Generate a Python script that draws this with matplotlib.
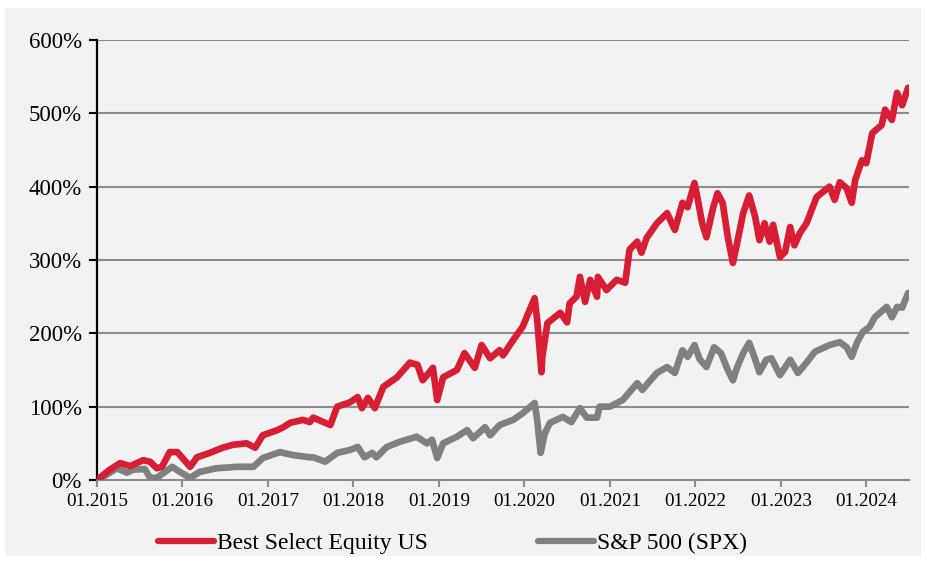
import matplotlib.pyplot as plt
from matplotlib.patches import Rectangle

# decimal years and cumulative performance in %
bse_x = [2015.00, 2015.15, 2015.27, 2015.39, 2015.54, 2015.62, 2015.70, 2015.76, 2015.85, 2015.94,
         2016.09, 2016.17, 2016.32, 2016.47, 2016.59, 2016.75, 2016.85, 2016.94, 2017.11, 2017.18,
         2017.26, 2017.41, 2017.49, 2017.53, 2017.73, 2017.81, 2017.96, 2018.05, 2018.10, 2018.17,
         2018.25, 2018.35, 2018.51, 2018.66, 2018.75, 2018.81, 2018.89, 2018.93, 2018.98, 2019.05,
         2019.21, 2019.30, 2019.42, 2019.50, 2019.60, 2019.71, 2019.75, 2019.87, 2019.98, 2020.12,
         2020.15, 2020.20, 2020.21, 2020.27, 2020.42, 2020.50, 2020.53, 2020.61, 2020.65, 2020.71,
         2020.77, 2020.85, 2020.86, 2020.96, 2021.08, 2021.18, 2021.23, 2021.32, 2021.37, 2021.43,
         2021.55, 2021.67, 2021.76, 2021.85, 2021.91, 2021.99, 2022.03, 2022.08, 2022.13, 2022.21,
         2022.26, 2022.32, 2022.38, 2022.44, 2022.48, 2022.56, 2022.63, 2022.70, 2022.75, 2022.81,
         2022.87, 2022.91, 2022.99, 2023.05, 2023.11, 2023.16, 2023.22, 2023.30, 2023.36, 2023.42,
         2023.57, 2023.63, 2023.69, 2023.77, 2023.83, 2023.87, 2023.95, 2024.00, 2024.07, 2024.18,
         2024.22, 2024.30, 2024.36, 2024.42, 2024.49]
bse_y = [0, 14, 23, 19, 27, 25, 16, 18, 38, 38,
         18, 31, 37, 44, 48, 50, 44, 61, 68, 72,
         78, 82, 79, 85, 75, 100, 106, 113, 98, 112,
         98, 127, 140, 160, 157, 136, 147, 153, 109, 140,
         150, 173, 153, 184, 166, 177, 170, 191, 209, 248,
         218, 147, 168, 214, 228, 215, 241, 250, 277, 243,
         273, 250, 277, 259, 273, 269, 314, 325, 310, 330,
         350, 364, 341, 378, 372, 405, 382, 350, 331, 372,
         391, 378, 331, 296, 318, 364, 388, 359, 327, 350,
         325, 348, 304, 311, 345, 320, 336, 350, 368, 386,
         400, 382, 406, 398, 378, 409, 436, 432, 473, 484,
         505, 491, 528, 511, 535]

spx_x = [2015.00, 2015.07, 2015.23, 2015.35, 2015.42, 2015.56, 2015.62, 2015.70, 2015.88, 2015.97,
         2016.09, 2016.20, 2016.40, 2016.64, 2016.83, 2016.94, 2017.14, 2017.29, 2017.49, 2017.53,
         2017.67, 2017.81, 2017.96, 2018.05, 2018.13, 2018.22, 2018.27, 2018.39, 2018.54, 2018.74,
         2018.86, 2018.92, 2018.98, 2019.05, 2019.21, 2019.33, 2019.40, 2019.54, 2019.60, 2019.71,
         2019.87, 2019.98, 2020.12, 2020.15, 2020.19, 2020.24, 2020.30, 2020.45, 2020.55, 2020.65,
         2020.73, 2020.85, 2020.88, 2021.00, 2021.15, 2021.32, 2021.38, 2021.55, 2021.67, 2021.76,
         2021.85, 2021.91, 2021.99, 2022.05, 2022.13, 2022.22, 2022.30, 2022.38, 2022.44, 2022.49,
         2022.56, 2022.63, 2022.69, 2022.75, 2022.83, 2022.89, 2022.99, 2023.11, 2023.20, 2023.30,
         2023.40, 2023.57, 2023.69, 2023.77, 2023.83, 2023.89, 2023.96, 2024.04, 2024.10, 2024.24,
         2024.30, 2024.36, 2024.42, 2024.49]
spx_y = [0, 4, 16, 10, 14, 15, 3, 3, 18, 11,
         3, 11, 16, 18, 18, 30, 38, 34, 31, 31,
         25, 37, 41, 45, 31, 37, 31, 45, 52, 59,
         50, 55, 30, 50, 59, 68, 57, 72, 61, 75,
         82, 91, 105, 82, 37, 64, 78, 86, 79, 98,
         85, 85, 100, 100, 109, 132, 123, 146, 154, 146,
         177, 168, 184, 165, 154, 181, 173, 150, 136, 154,
         173, 187, 168, 147, 164, 166, 143, 164, 146, 160,
         175, 184, 188, 181, 168, 187, 202, 209, 222, 236,
         222, 236, 235, 255]

year_ticks = list(range(2015, 2025))
tick_labels = ["01." + str(y) for y in year_ticks]
pct_ticks = [0, 100, 200, 300, 400, 500, 600]

red = "#d81e34"
gray = "#808080"
grid_c = "#8c8c8c"
bg = "#f2f2f2"

plt.rcParams['font.family'] = ['Liberation Serif', 'DejaVu Serif']

fig = plt.figure(figsize=(9.28, 5.62), dpi=100, facecolor="white")
fig.patches.append(Rectangle((5/928, 1-556/562), 916/928, 548/562,
                             transform=fig.transFigure, facecolor=bg, edgecolor="none", zorder=-10))
ax = fig.add_axes([97/928, 1-480/562, 812/928, 440/562])
ax.set_facecolor(bg)

for v in pct_ticks[1:]:
    ax.axhline(v, color=grid_c, lw=1.5, zorder=1)

ax.plot(spx_x, spx_y, color=gray, lw=4.8, solid_capstyle="round", solid_joinstyle="round",
        zorder=3, label="S&P 500 (SPX)")
ax.plot(bse_x, bse_y, color=red, lw=4.8, solid_capstyle="round", solid_joinstyle="round",
        zorder=4, label="Best Select Equity US")

ax.set_xlim(2015.0, 2024.5)
ax.set_ylim(0, 600)
ax.set_xticks(year_ticks)
ax.set_xticklabels(tick_labels, fontsize=13.8)
ax.set_yticks(pct_ticks)
ax.set_yticklabels([str(v) + "%" for v in pct_ticks], fontsize=16.5)

for s in ["top", "right"]:
    ax.spines[s].set_visible(False)
ax.spines["left"].set_color("black")
ax.spines["left"].set_linewidth(1.6)
ax.spines["bottom"].set_color(grid_c)
ax.spines["bottom"].set_linewidth(1.5)
ax.tick_params(axis="y", length=6, width=1.5, color="black", pad=5)
ax.tick_params(axis="x", length=5, width=1.5, color=grid_c, pad=4)

h, l = ax.get_legend_handles_labels()
leg = fig.legend(h[::-1], l[::-1], loc="center", bbox_to_anchor=(0.4876, 1-543/562), ncol=2,
                 frameon=False, fontsize=17, handlelength=2.35, handletextpad=0.12, columnspacing=4.7)
for ln in leg.get_lines():
    ln.set_linewidth(4.5)

fig.savefig("out.png", dpi=100, facecolor="white")
